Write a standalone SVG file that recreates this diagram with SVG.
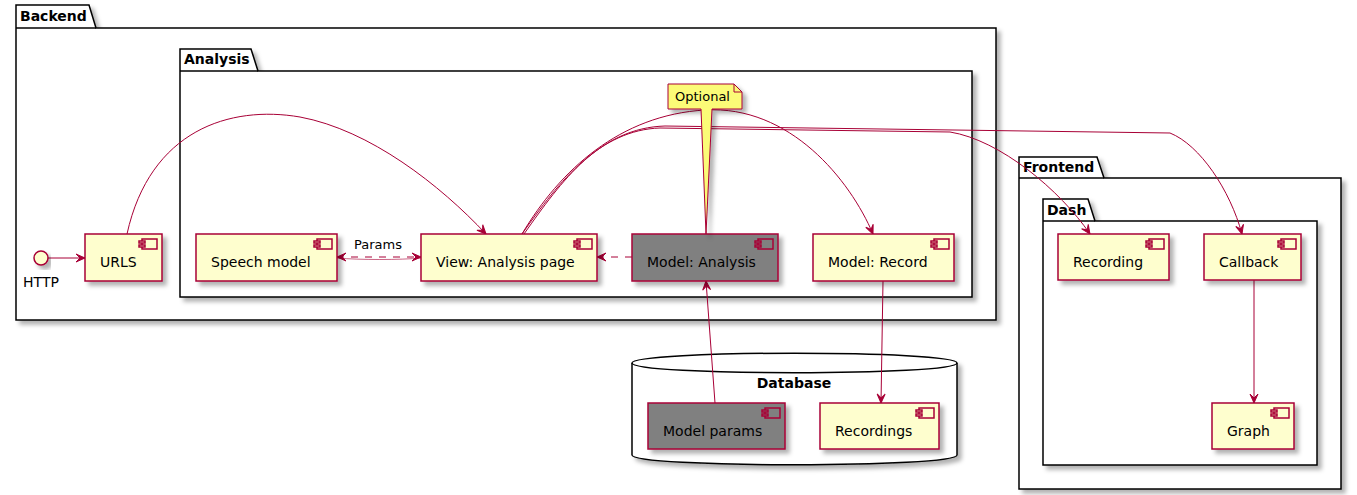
<svg xmlns="http://www.w3.org/2000/svg" width="1357" height="495" viewBox="0 0 1357 495">
<defs>
<filter id="sh" x="-10%" y="-10%" width="130%" height="140%"><feDropShadow dx="4" dy="4" stdDeviation="2" flood-color="#000" flood-opacity="0.3"/></filter>
<marker id="arr" viewBox="-10 -5 12 10" refX="0" refY="0" markerWidth="12" markerHeight="10" orient="auto-start-reverse" markerUnits="userSpaceOnUse"><path d="M0,0 L-9,-4 L-5,0 L-9,4 Z" fill="#A80036" stroke="#A80036" stroke-width="1"/></marker>
<g id="icon"><rect x="-20" y="5" width="15" height="10" fill="#FEFECE" stroke="#A80036" stroke-width="1.5"/><rect x="-23" y="7" width="6" height="2" fill="#FEFECE" stroke="#A80036" stroke-width="1.5"/><rect x="-23" y="11" width="6" height="2" fill="#FEFECE" stroke="#A80036" stroke-width="1.5"/></g>
<g id="icong"><rect x="-20" y="5" width="15" height="10" fill="#808080" stroke="#A80036" stroke-width="1.5"/><rect x="-23" y="7" width="6" height="2" fill="#808080" stroke="#A80036" stroke-width="1.5"/><rect x="-23" y="11" width="6" height="2" fill="#808080" stroke="#A80036" stroke-width="1.5"/></g>
</defs>
<style>
.pkg{fill:#fff;stroke:#000;stroke-width:1.5;}
.pl{font-family:"DejaVu Sans",sans-serif;font-size:14px;font-weight:bold;fill:#000;}
.comp{fill:#FEFECE;stroke:#A80036;stroke-width:1.5;}
.compg{fill:#808080;stroke:#A80036;stroke-width:1.5;}
.t{font-family:"DejaVu Sans",sans-serif;font-size:14px;fill:#000;}
.s{font-family:"DejaVu Sans",sans-serif;font-size:13px;fill:#000;}
.e{fill:none;stroke:#A80036;stroke-width:1;}
.d{stroke-dasharray:7,7;}
</style>

<g id="pkg-backend">
<path class="pkg" filter="url(#sh)" d="M16,28 L16,5 L89,5 L96,28 L996,28 L996,320 L16,320 Z"/>
<line x1="16" y1="28" x2="96" y2="28" stroke="#000" stroke-width="1.5"/>
<text class="pl" x="20" y="21">Backend</text>
</g>
<g id="pkg-analysis">
<path class="pkg" filter="url(#sh)" d="M180,71 L180,49 L251,49 L258,71 L972,71 L972,297 L180,297 Z"/>
<line x1="180" y1="71" x2="258" y2="71" stroke="#000" stroke-width="1.5"/>
<text class="pl" x="184" y="64">Analysis</text>
</g>
<g id="pkg-frontend">
<path class="pkg" filter="url(#sh)" d="M1019,178 L1019,157 L1097,157 L1104,178 L1341,178 L1341,489 L1019,489 Z"/>
<line x1="1019" y1="178" x2="1104" y2="178" stroke="#000" stroke-width="1.5"/>
<text class="pl" x="1023" y="172">Frontend</text>
</g>
<g id="pkg-dash">
<path class="pkg" filter="url(#sh)" d="M1043,221 L1043,199 L1088,199 L1095,221 L1317,221 L1317,465 L1043,465 Z"/>
<line x1="1043" y1="221" x2="1095" y2="221" stroke="#000" stroke-width="1.5"/>
<text class="pl" x="1047" y="215">Dash</text>
</g>
<g id="db-database">
<path class="pkg" filter="url(#sh)" d="M632,363 C632,350 957,350 957,363 L957,455 C957,468 632,468 632,455 Z"/>
<path d="M632,363 C632,376 957,376 957,363" fill="none" stroke="#000" stroke-width="1.5"/>
<text class="pl" x="794" y="388" text-anchor="middle">Database</text>
</g>

<g id="connectors">
<line class="e" x1="48" y1="258" x2="85" y2="258" marker-end="url(#arr)"/>
<path class="e" d="M127,234 C150,130 230,105 300,117 C370,130 440,185 486,234" marker-end="url(#arr)"/>
<line class="e d" x1="337" y1="257" x2="421" y2="257" marker-start="url(#arr)" marker-end="url(#arr)"/>
<path class="e" d="M337,258 C360,260 400,260 421,258" stroke-opacity="0.6"/>
<text class="s" x="354" y="249">Params</text>
<line class="e d" x1="632" y1="257" x2="597" y2="257" marker-end="url(#arr)"/>
<path class="e" d="M522,234 C560,170 620,115 705,110 C790,105 850,180 873,234" marker-end="url(#arr)"/>
<path class="e" d="M522,234 C560,180 600,130 660,128 L950,132 C1000,140 1060,190 1090,234" marker-end="url(#arr)"/>
<path class="e" d="M524,234 C562,180 600,128 665,126 L1170,133 C1200,145 1230,190 1242,234" marker-end="url(#arr)"/>
<line class="e" x1="715" y1="403" x2="706" y2="281" marker-end="url(#arr)"/>
<line class="e" x1="883" y1="281" x2="881" y2="403" marker-end="url(#arr)"/>
<line class="e" x1="1254" y1="280" x2="1254" y2="403" marker-end="url(#arr)"/>
</g>

<g id="http">
<circle cx="41" cy="258" r="7" fill="#FEFECE" stroke="#A80036" stroke-width="1.5" filter="url(#sh)"/>
<text class="t" x="41" y="287" text-anchor="middle">HTTP</text>
</g>
<g id="urls">
<rect class="comp" filter="url(#sh)" x="85" y="234" width="77" height="47"/>
<use href="#icon" x="162" y="234"/>
<text class="t" x="100" y="267">URLS</text>
</g>
<g id="speech-model">
<rect class="comp" filter="url(#sh)" x="196" y="234" width="141" height="47"/>
<use href="#icon" x="337" y="234"/>
<text class="t" x="211" y="267">Speech model</text>
</g>
<g id="view-analysis">
<rect class="comp" filter="url(#sh)" x="421" y="234" width="176" height="47"/>
<use href="#icon" x="597" y="234"/>
<text class="t" x="436" y="267">View: Analysis page</text>
</g>
<g id="model-analysis">
<rect class="compg" filter="url(#sh)" x="632" y="234" width="146" height="47"/>
<use href="#icong" x="778" y="234"/>
<text class="t" x="647" y="267">Model: Analysis</text>
</g>
<g id="model-record">
<rect class="comp" filter="url(#sh)" x="813" y="234" width="141" height="47"/>
<use href="#icon" x="954" y="234"/>
<text class="t" x="828" y="267">Model: Record</text>
</g>
<g id="note-optional">
<path d="M668,84 L734,84 L742,92 L742,109 L712,109 L706,234 L701,109 L668,109 Z" fill="#FBFB77" stroke="#A80036" stroke-width="1" filter="url(#sh)"/>
<path d="M734,84 L734,92 L742,92" fill="none" stroke="#A80036" stroke-width="1"/>
<text class="s" x="675" y="101">Optional</text>
</g>
<g id="model-params">
<rect class="compg" filter="url(#sh)" x="648" y="403" width="137" height="46"/>
<use href="#icong" x="785" y="403"/>
<text class="t" x="663" y="436">Model params</text>
</g>
<g id="recordings">
<rect class="comp" filter="url(#sh)" x="820" y="403" width="119" height="46"/>
<use href="#icon" x="939" y="403"/>
<text class="t" x="835" y="436">Recordings</text>
</g>
<g id="recording">
<rect class="comp" filter="url(#sh)" x="1058" y="234" width="111" height="46"/>
<use href="#icon" x="1169" y="234"/>
<text class="t" x="1073" y="267">Recording</text>
</g>
<g id="callback">
<rect class="comp" filter="url(#sh)" x="1204" y="234" width="97" height="46"/>
<use href="#icon" x="1301" y="234"/>
<text class="t" x="1219" y="267">Callback</text>
</g>
<g id="graph">
<rect class="comp" filter="url(#sh)" x="1212" y="403" width="82" height="46"/>
<use href="#icon" x="1294" y="403"/>
<text class="t" x="1227" y="436">Graph</text>
</g>
</svg>
